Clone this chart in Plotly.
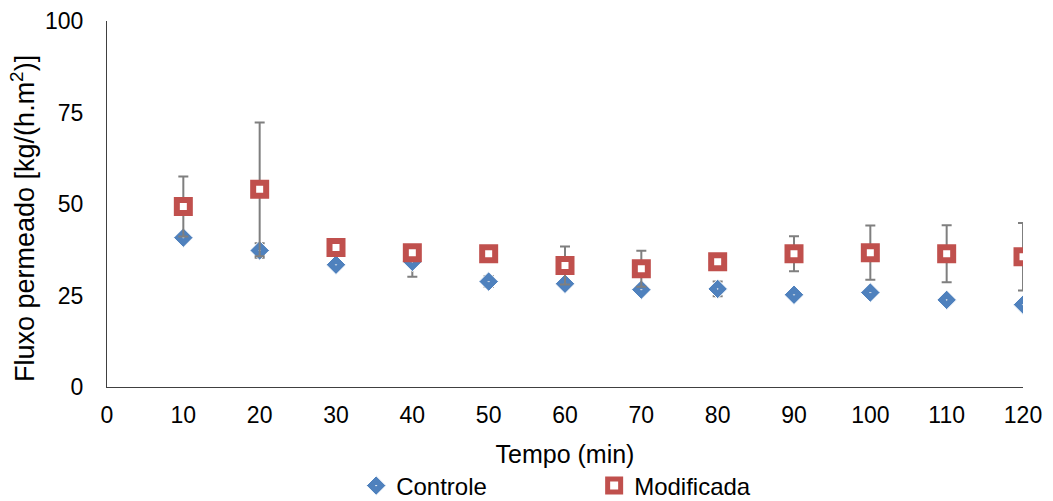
import plotly.graph_objects as go

tempo = [10, 20, 30, 40, 50, 60, 70, 80, 90, 100, 110, 120]
controle = [40.8, 37.3, 33.4, 34.2, 28.8, 28.2, 26.6, 26.8, 25.2, 25.8, 23.8, 22.5]
controle_err = [0.5, 2.0, 0.5, 4.1, 1.5, 0.5, 0.5, 2.0, 0.5, 0.5, 0.5, 0.5]
modificada = [49.3, 54.0, 38.1, 36.7, 36.4, 33.2, 32.3, 34.2, 36.4, 36.7, 36.4, 35.6]
modificada_err = [8.2, 18.3, 1.0, 1.0, 1.0, 5.2, 4.9, 1.0, 4.8, 7.4, 7.8, 9.2]

FONT = "Liberation Sans, Arial, sans-serif"
ERR_COLOR = "#7f7f7f"

fig = go.Figure()
fig.add_trace(go.Scatter(
    x=tempo, y=controle, mode="markers", name="Controle",
    marker=dict(symbol="diamond-dot", size=15, color="#4f81bd",
                line=dict(color="white", width=1)),
    error_y=dict(type="data", array=controle_err, visible=True,
                 color=ERR_COLOR, thickness=2, width=5),
))
fig.add_trace(go.Scatter(
    x=tempo, y=modificada, mode="markers", name="Modificada",
    marker=dict(symbol="square", size=13, color="white",
                line=dict(color="#c0504d", width=6)),
    error_y=dict(type="data", array=modificada_err, visible=True,
                 color=ERR_COLOR, thickness=2, width=5),
))

fig.update_layout(
    width=1053, height=501,
    margin=dict(l=107, r=30, t=21, b=114, autoexpand=False),
    paper_bgcolor="white", plot_bgcolor="white",
    font=dict(family=FONT, size=23, color="#000000"),
    showlegend=True,
    legend=dict(orientation="h", x=0.272, xanchor="left",
                y=(387 - 486) / 366, yanchor="middle",
                font=dict(size=24), itemwidth=30, tracegroupgap=0,
                entrywidth=193, entrywidthmode="pixels"),
    xaxis=dict(range=[0, 120], tickvals=list(range(0, 121, 10)),
               showgrid=False, zeroline=False, showline=True,
               linecolor="#404040", linewidth=1, ticks="",
               ticklabelstandoff=7,
               title=dict(text="Tempo (min)", font=dict(size=25), standoff=18),
               tickfont=dict(size=23)),
    yaxis=dict(range=[0, 100], tickvals=[0, 25, 50, 75, 100],
               showgrid=False, zeroline=False, showline=True,
               linecolor="#404040", linewidth=1, ticks="",
               ticklabelstandoff=18,
               tickfont=dict(size=23)),
    annotations=[dict(
        text="Fluxo permeado [kg/(h.m<sup>2</sup>)]",
        xref="paper", yref="paper", x=(23 - 107) / 916, y=(387 - 219) / 366,
        xanchor="center", yanchor="middle", textangle=-90, showarrow=False,
        font=dict(size=27, family=FONT, color="#000000"),
    )],
)

fig.write_html("out.html")
